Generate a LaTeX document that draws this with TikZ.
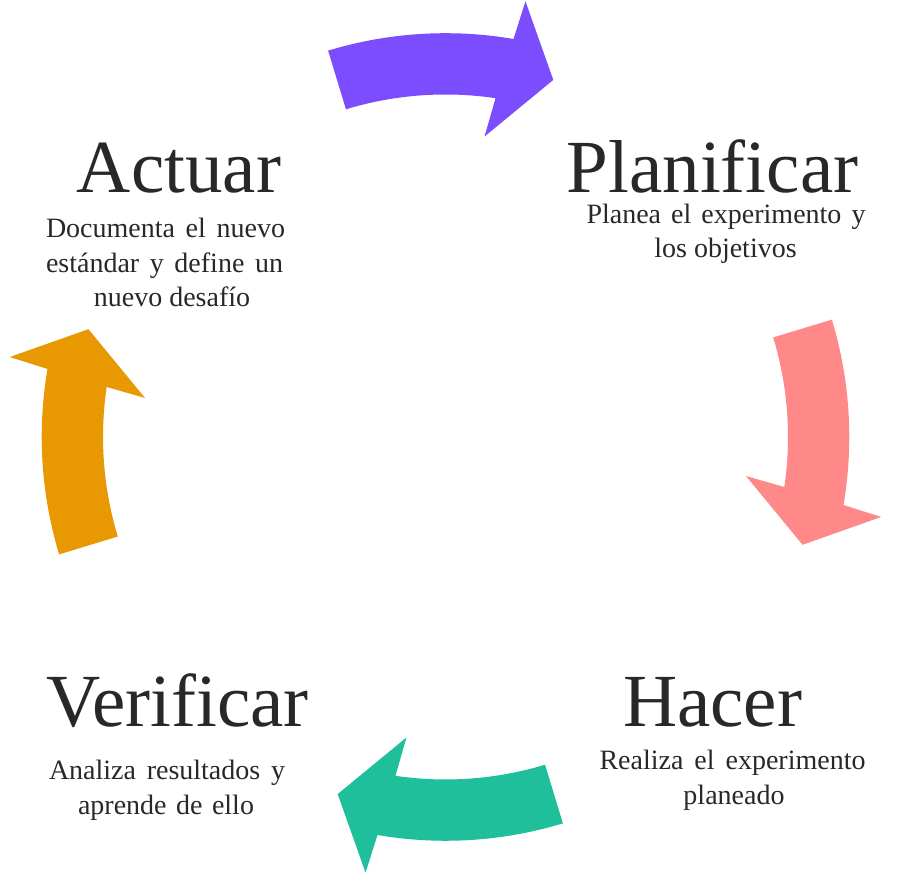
\documentclass[tikz,border=0pt]{standalone}
\usepackage{fontspec}
\setmainfont{Liberation Serif}[Ligatures=NoCommon]
\definecolor{txt}{HTML}{282828}
\definecolor{cpurple}{HTML}{7B4DFF}
\definecolor{cpink}{HTML}{FF8888}
\definecolor{cgreen}{HTML}{1FBF9B}
\definecolor{corange}{HTML}{E89800}
\newcommand{\cyclearrow}[2]{%
  \fill[#2] (106.9+#1:403.8) arc[start angle=106.9+#1, end angle=80.3+#1, radius=403.8]
    -- (79.6+#1:443) -- (73.2+#1:373) -- (82.6+#1:303) -- (81.6+#1:342.5)
    arc[start angle=81.6+#1, end angle=106.9+#1, radius=342.5] -- cycle;}
\begin{document}
\begin{tikzpicture}[x=1pt,y=1pt,
  titlestyle/.style={anchor=base,inner sep=0pt,text=txt,font=\fontsize{75}{82}\selectfont},
  descstyle/.style={anchor=base,inner sep=0pt,text=txt,font=\fontsize{28}{34}\selectfont}]
\useasboundingbox (0,0) rectangle (898,896);
\begin{scope}[shift={(445.5,459)}]
  \cyclearrow{0}{cpurple}
  \cyclearrow{-90}{cpink}
  \cyclearrow{-180}{cgreen}
  \cyclearrow{-270}{corange}
\end{scope}
% titles
\node[titlestyle] (actuar) at (179,703) {Actuar};
\node[titlestyle] (planificar) at (712.5,703.3) {Planificar};
\node[titlestyle] (hacer) at (712.5,169.3) {Hacer};
\node[titlestyle] (verificar) at (177.5,169.3) {Verificar};
% descriptions
\node[descstyle] (a1) at (165.5,658) {\makebox[239pt][s]{Documenta el nuevo}};
\node[descstyle] (a2) at (164.5,623.5) {\makebox[237pt][s]{estándar y define un}};
\node[descstyle] (a3) at (172,589) {nuevo desafío};
\node[descstyle] (p1) at (726,672) {\makebox[279pt][s]{Planea el experimento y}};
\node[descstyle] (p2) at (725.5,638) {los objetivos};
\node[descstyle] (h1) at (732.5,126) {\makebox[266pt][s]{Realiza el experimento}};
\node[descstyle] (h2) at (734,91) {planeado};
\node[descstyle] (v1) at (167,116) {\makebox[236pt][s]{Analiza resultados y}};
\node[descstyle] (v2) at (166,81.5) {\makebox[176pt][s]{aprende de ello}};
\end{tikzpicture}
\end{document}
